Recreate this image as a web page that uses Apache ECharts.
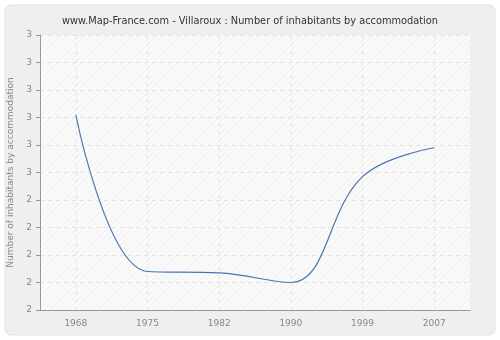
<!DOCTYPE html>
<html><head><meta charset="utf-8">
<script src="https://cdn.jsdelivr.net/npm/echarts@6/dist/echarts.min.js"></script>
<style>html,body{margin:0;padding:0;background:#fff}#c{width:500px;height:340px}</style>
</head><body><div id="c"></div>
<script>
const categories = ['1968','1975','1982','1990','1999','2007'];
const values = [2.71, 2.14, 2.135, 2.10, 2.485, 2.59];
const titleText = 'www.Map-France.com - Villaroux : Number of inhabitants by accommodation';
const yName = 'Number of inhabitants by accommodation';

// hatch pattern for plot background
const pc = document.createElement('canvas');
pc.width = 6; pc.height = 6;
const g = pc.getContext('2d');
g.fillStyle = '#fafafa'; g.fillRect(0,0,6,6);
g.strokeStyle = '#efefef'; g.lineWidth = 1;
g.beginPath(); g.moveTo(0,6); g.lineTo(6,0); g.moveTo(-1,1); g.lineTo(1,-1); g.moveTo(5,7); g.lineTo(7,5); g.stroke();

const chart = echarts.init(document.getElementById('c'), null, {renderer:'canvas'});
chart.setOption({
  animation: false,
  backgroundColor: '#ffffff',
  graphic: [{
    type: 'rect', z: -10, silent: true,
    shape: {x: 5, y: 5, width: 490, height: 330, r: 6},
    style: {fill: '#efefef', stroke: '#e2e2e2', lineWidth: 1}
  }, {
    type: 'rect', z: -9, silent: true,
    shape: {x: 40, y: 35, width: 430, height: 275},
    style: {fill: {image: pc, repeat: 'repeat'}}
  }],
  title: {
    text: titleText, left: 'center', top: 11,
    textStyle: {fontFamily: 'DejaVu Sans', fontSize: 9.8, fontWeight: 'normal', color: '#333'}
  },
  grid: {left: 40, right: 30, top: 35, bottom: 30, containLabel: false, outerBoundsMode: 'none'},
  xAxis: {
    type: 'category', data: categories, boundaryGap: true,
    axisLine: {lineStyle: {color: '#999', width: 1}},
    axisTick: {alignWithLabel: true, length: 4, lineStyle: {color: '#999'}},
    axisLabel: {color: '#888', fontFamily: 'DejaVu Sans', fontSize: 9, margin: 9},
    splitLine: {show: true, alignWithLabel: true, lineStyle: {color: '#e4e4e4', type: [4, 4]}}
  },
  yAxis: {
    type: 'value', min: 2, max: 3, interval: 0.1,
    name: yName, nameLocation: 'middle', nameGap: 22, nameRotate: 90,
    nameTextStyle: {color: '#888', fontFamily: 'DejaVu Sans', fontSize: 9},
    axisLine: {show: true, lineStyle: {color: '#999', width: 1}},
    axisTick: {show: true, length: 4, lineStyle: {color: '#999'}},
    axisLabel: {color: '#888', fontFamily: 'DejaVu Sans', fontSize: 9, margin: 8,
      formatter: v => String(Math.round(v))},
    splitLine: {show: true, lineStyle: {color: '#e4e4e4', type: [4, 4]}}
  },
  series: [{
    type: 'line', data: values, smooth: 0.4, showSymbol: false,
    lineStyle: {color: '#4a76ad', width: 1.2}
  }]
});
</script></body></html>
